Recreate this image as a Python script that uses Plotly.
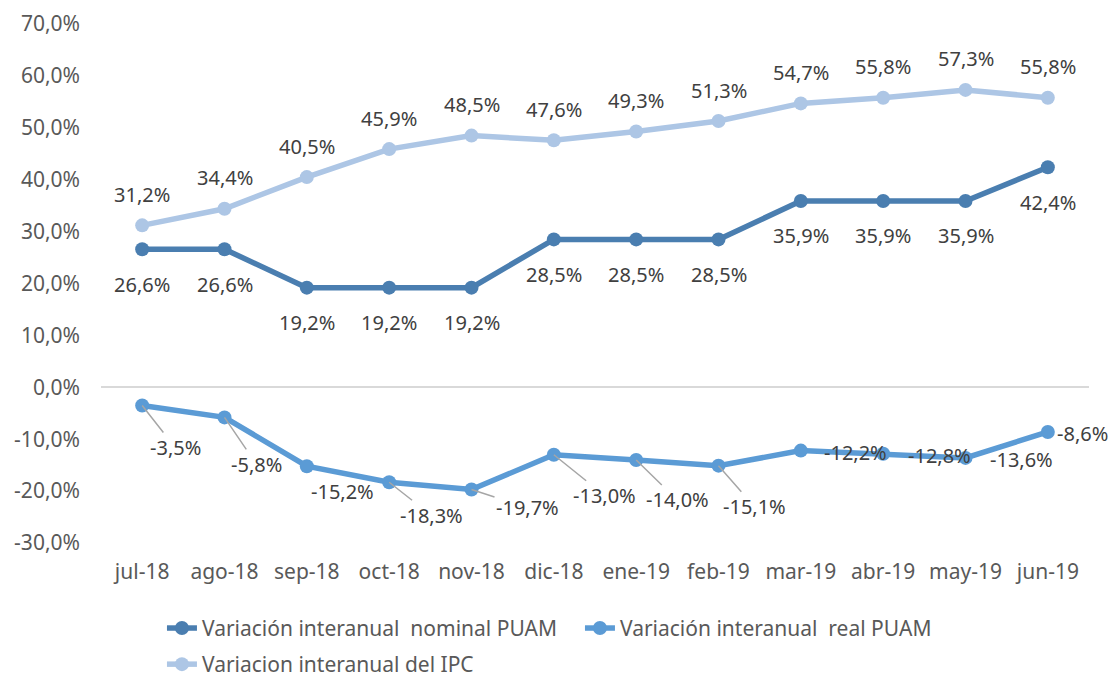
import plotly.graph_objects as go

categories = ["jul-18", "ago-18", "sep-18", "oct-18", "nov-18", "dic-18",
              "ene-19", "feb-19", "mar-19", "abr-19", "may-19", "jun-19"]
nominal = [26.6, 26.6, 19.2, 19.2, 19.2, 28.5, 28.5, 28.5, 35.9, 35.9, 35.9, 42.4]
real = [-3.5, -5.8, -15.2, -18.3, -19.7, -13.0, -14.0, -15.1, -12.2, -12.8, -13.6, -8.6]
ipc = [31.2, 34.4, 40.5, 45.9, 48.5, 47.6, 49.3, 51.3, 54.7, 55.8, 57.3, 55.8]
names = ["Variación interanual  nominal PUAM", "Variación interanual  real PUAM",
         "Variacion interanual del IPC"]
ytick_vals = [-30, -20, -10, 0, 10, 20, 30, 40, 50, 60, 70]

# label offsets (pixels) for the real series, with leader-line flags
real_offsets = [(33, 42, True), (32, 47, True), (36, 25, False), (42, 33, True),
                (56, 18, True), (51, 41, True), (41, 40, True), (36, 41, True),
                (55, 2, False), (56, 2, False), (56, 2, False), (35, 2, False)]

FONT = "Noto Sans"
C_NOM = "#4A7EB0"
C_REAL = "#5B9BD5"
C_IPC = "#ADC6E5"
LBL = "#404040"
TICK = "#595959"


def fmt(v):
    return f"{v:.1f}".replace(".", ",") + "%"


fig = go.Figure()
for vals, name, col, lg in [(nominal, names[0], C_NOM, "legend"),
                            (real, names[1], C_REAL, "legend"),
                            (ipc, names[2], C_IPC, "legend2")]:
    fig.add_trace(go.Scatter(x=categories, y=vals, name=name, mode="lines+markers",
                             line=dict(color=col, width=5.5),
                             marker=dict(color=col, size=14), legend=lg))

ann = []
for c, v in zip(categories, nominal):
    ann.append(dict(x=c, y=v, text=fmt(v), showarrow=True, ax=0, ay=35,
                    arrowcolor="rgba(0,0,0,0)", font=dict(family=FONT, size=20, color=LBL)))
for c, v in zip(categories, ipc):
    ann.append(dict(x=c, y=v, text=fmt(v), showarrow=True, ax=0, ay=-31,
                    arrowcolor="rgba(0,0,0,0)", font=dict(family=FONT, size=20, color=LBL)))
for c, v, (dx, dy, lead) in zip(categories, real, real_offsets):
    ann.append(dict(x=c, y=v, text=fmt(v), showarrow=True, ax=dx, ay=dy,
                    arrowhead=0, arrowwidth=1.5, standoff=0, startstandoff=0,
                    arrowcolor="#A6A6A6" if lead else "rgba(0,0,0,0)",
                    font=dict(family=FONT, size=20, color=LBL)))

legfont = dict(family=FONT, size=21, color=TICK)
fig.update_layout(
    width=1113, height=679,
    margin=dict(l=101, r=24, t=24, b=136, autoexpand=False),
    paper_bgcolor="white", plot_bgcolor="white",
    font=dict(family=FONT, size=21, color=TICK),
    annotations=ann,
    showlegend=True,
    legend=dict(orientation="h", x=0.0617, xanchor="left", y=-0.125, yanchor="top",
                entrywidth=373, entrywidthmode="pixels", font=legfont,
                bgcolor="rgba(0,0,0,0)"),
    legend2=dict(orientation="h", x=0.0617, xanchor="left", y=-0.1946, yanchor="top",
                 font=legfont, bgcolor="rgba(0,0,0,0)"),
    xaxis=dict(showgrid=False, showline=False, zeroline=False, ticks="",
               ticklabelstandoff=14, tickfont=dict(family=FONT, size=21, color=TICK),
               range=[-0.5, 11.5]),
    yaxis=dict(range=[-30, 70], tickvals=ytick_vals,
               ticktext=[fmt(v) for v in ytick_vals],
               showgrid=False, showline=False, zeroline=True,
               zerolinecolor="#D9D9D9", zerolinewidth=1.5, ticks="",
               ticklabelstandoff=20, tickfont=dict(family=FONT, size=21, color=TICK)),
)

fig.write_html("out.html", config={"displayModeBar": False},
               post_script="document.body.style.margin='0';document.body.style.overflow='hidden';")
